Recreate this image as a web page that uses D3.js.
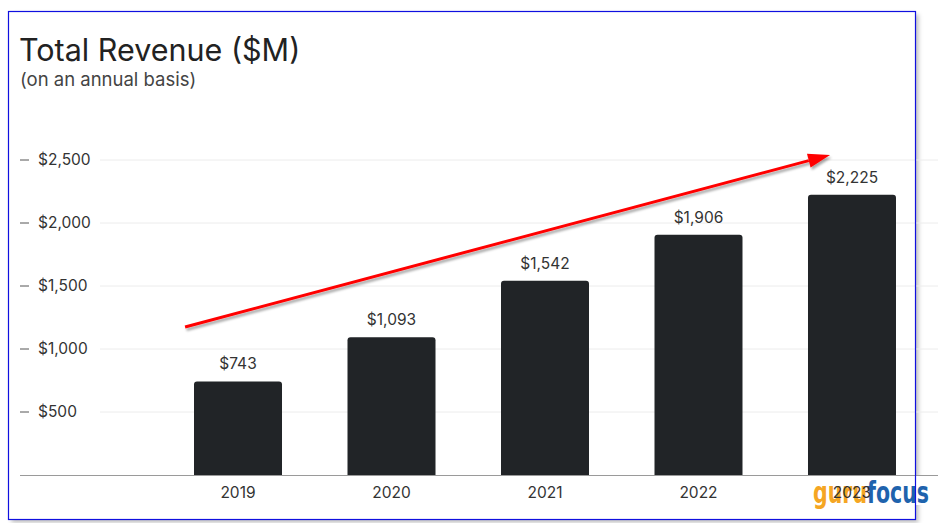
<!DOCTYPE html>
<html><head><meta charset="utf-8">
<script src="https://cdn.jsdelivr.net/npm/d3@7"></script>
<style>html,body{margin:0;padding:0;background:#fff;}svg{display:block;}</style>
</head><body>
<svg id="chart" width="938" height="523"></svg>
<script>
const years = ["2019", "2020", "2021", "2022", "2023"];
const revenue = [743, 1093, 1542, 1906, 2225];
const yTicks = [500, 1000, 1500, 2000, 2500];
const titleText = "Total Revenue ($M)";
const subtitleText = "(on an annual basis)";
// trend arrow in data terms: band index offset and value
const arrowFrom = { index: -0.345, value: 1175 };
const arrowTo = { index: 3.857, value: 2540 };

const svg = d3.select("#chart");
const defs = svg.append("defs");
const f = defs.append("filter").attr("id","sh").attr("x","-10%").attr("y","-10%").attr("width","130%").attr("height","150%");
f.append("feDropShadow").attr("dx",1.5).attr("dy",2.5).attr("stdDeviation",1.2).attr("flood-color","#000").attr("flood-opacity",0.35);
const fb = defs.append("filter").attr("id","bsh").attr("x","-5%").attr("y","-5%").attr("width","110%").attr("height","110%");
fb.append("feDropShadow").attr("dx",3).attr("dy",3).attr("stdDeviation",2).attr("flood-color","#000").attr("flood-opacity",0.25);

// frame
svg.append("rect").attr("x",8.5).attr("y",11.5).attr("width",907).attr("height",508)
  .attr("fill","#fff").attr("stroke","none").attr("filter","url(#bsh)");

const x = d3.scaleBand().domain(years).range([161.25, 928.75]).paddingInner(0.4267).paddingOuter(0.2134);
const y = d3.scaleLinear().domain([0, 2500]).range([475, 160]);

const font = "Inter, 'Liberation Sans', Arial, sans-serif";

// gridlines
svg.append("g").selectAll("line").data(yTicks).join("line")
  .attr("x1",100).attr("x2",938).attr("y1",d=>y(d)).attr("y2",d=>y(d))
  .attr("stroke","#ececec").attr("stroke-width",1);

// y tick labels
const yt = svg.append("g").selectAll("g").data(yTicks).join("g").attr("transform",d=>`translate(0,${y(d)})`);
yt.append("line").attr("x1",20).attr("x2",29).attr("stroke","#555").attr("stroke-width",1);
yt.append("text").attr("x",38).attr("dy","0.35em").attr("font-family",font).attr("font-size",15.5)
  .attr("fill","#333").text(d=>"$"+d3.format(",")(d));

// bars
svg.append("g").selectAll("rect").data(revenue).join("rect")
  .attr("x",(d,i)=>x(years[i])).attr("width",x.bandwidth())
  .attr("y",d=>y(d)).attr("height",d=>y(0)-y(d)+3)
  .attr("rx",3).attr("fill","#212427");

// baseline
svg.append("rect").attr("x",20).attr("y",y(0)).attr("width",918).attr("height",30).attr("fill","#fff");
svg.append("line").attr("x1",20).attr("x2",938).attr("y1",y(0)+0.5).attr("y2",y(0)+0.5).attr("stroke","#9a9a9a").attr("stroke-width",1);

// watermark
const wm = svg.append("text").attr("x",813).attr("y",503).attr("font-family","'DejaVu Sans Condensed','DejaVu Sans',sans-serif")
  .attr("font-weight","bold").attr("font-size",31).attr("textLength",116).attr("lengthAdjust","spacingAndGlyphs");
wm.append("tspan").attr("fill","#f5a623").text("guru");
wm.append("tspan").attr("fill","#1f63ad").text("focus");

// value labels
svg.append("g").selectAll("text").data(revenue).join("text")
  .attr("x",(d,i)=>x(years[i])+x.bandwidth()/2).attr("y",d=>y(d)-12)
  .attr("text-anchor","middle").attr("font-family",font).attr("font-size",15.5).attr("fill","#333")
  .text(d=>"$"+d3.format(",")(d));

// x labels
svg.append("g").selectAll("text").data(years).join("text")
  .attr("x",d=>x(d)+x.bandwidth()/2).attr("y",498)
  .attr("text-anchor","middle").attr("font-family",font).attr("font-size",15.5).attr("fill","#333")
  .text(d=>d);

// title
svg.append("text").attr("x",19).attr("y",61).attr("font-family",font).attr("font-size",30.5).attr("fill","#222").text(titleText);
svg.append("text").attr("x",20).attr("y",86).attr("font-family",font).attr("font-size",18.5).attr("fill","#444").text(subtitleText);

// arrow
const step = x.step();
const cx = i => x(years[0]) + x.bandwidth()/2 + i*step;
const x1 = cx(arrowFrom.index), y1 = y(arrowFrom.value);
const x2 = cx(arrowTo.index), y2 = y(arrowTo.value);
const ang = Math.atan2(y2-y1, x2-x1);
const hl = 22, hw = 7;
const bx = x2 - hl*Math.cos(ang), by = y2 - hl*Math.sin(ang);
const g = svg.append("g").attr("filter","url(#sh)");
g.append("line").attr("x1",x1).attr("y1",y1).attr("x2",bx).attr("y2",by).attr("stroke","#ff0000").attr("stroke-width",3);
g.append("path").attr("d",d3.line()([[x2,y2],[bx - hw*Math.sin(ang), by + hw*Math.cos(ang)],[bx + hw*Math.sin(ang), by - hw*Math.cos(ang)]])+"Z").attr("fill","#ff0000");

// blue border on top
svg.append("rect").attr("x",8.5).attr("y",11.5).attr("width",907).attr("height",508)
  .attr("fill","none").attr("stroke","#1010e0").attr("stroke-width",1.2);
</script>
</body></html>
